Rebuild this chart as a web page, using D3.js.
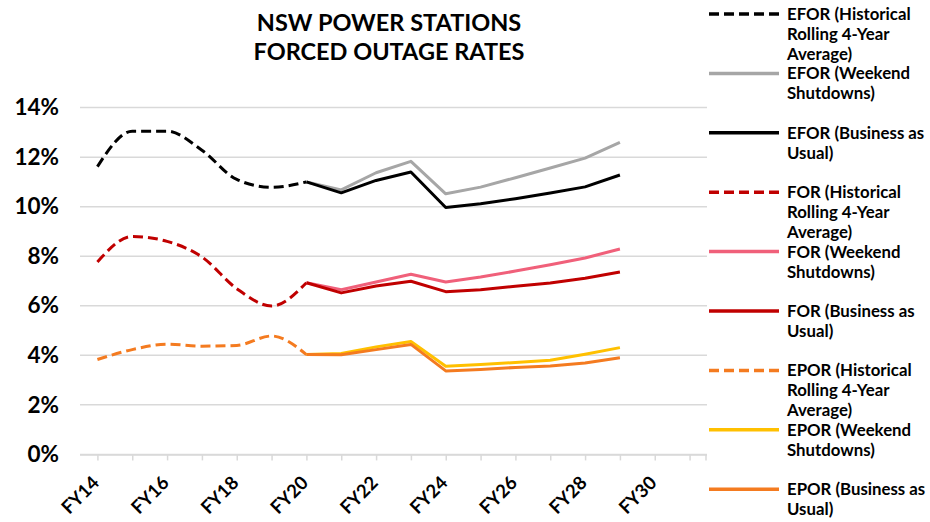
<!DOCTYPE html>
<html>
<head>
<meta charset="utf-8">
<script src="https://cdn.jsdelivr.net/npm/d3@7"></script>
<style>
  html, body { margin: 0; padding: 0; background: #fff; }
  svg { display: block; font-family: Lato, "Open Sans", sans-serif; font-weight: 700; }
</style>
</head>
<body>
<svg id="chart" width="930" height="522"></svg>
<script>
const categories = ["FY14","FY15","FY16","FY17","FY18","FY19","FY20","FY21","FY22","FY23","FY24","FY25","FY26","FY27","FY28","FY29","FY30","FY31"];
const tickLabels = ["FY14","FY16","FY18","FY20","FY22","FY24","FY26","FY28","FY30"];
const yTicks = [0, 2, 4, 6, 8, 10, 12, 14];
const histYears = ["FY14","FY15","FY16","FY17","FY18","FY19","FY20"];
const projYears = ["FY20","FY21","FY22","FY23","FY24","FY25","FY26","FY27","FY28","FY29"];

const eforHist     = [11.62, 13.05, 13.05, 12.28, 11.1, 10.78, 11.0];
const eforWeekend  = [11.0, 10.68, 11.37, 11.83, 10.52, 10.79, 11.17, 11.56, 11.96, 12.6];
const eforBAU      = [11.0, 10.56, 11.06, 11.4, 9.97, 10.12, 10.32, 10.55, 10.8, 11.28];
const forHist      = [7.77, 8.8, 8.6, 7.97, 6.69, 5.99, 6.93];
const forWeekend   = [6.93, 6.65, 6.96, 7.27, 6.96, 7.16, 7.4, 7.66, 7.93, 8.29];
const forBAU       = [6.93, 6.52, 6.8, 6.99, 6.57, 6.65, 6.79, 6.92, 7.11, 7.36];
const eporHist     = [3.83, 4.23, 4.45, 4.37, 4.4, 4.78, 4.03];
const eporWeekend  = [4.03, 4.07, 4.34, 4.56, 3.56, 3.63, 3.71, 3.8, 4.04, 4.31];
const eporBAU      = [4.03, 4.02, 4.23, 4.44, 3.37, 3.43, 3.51, 3.57, 3.69, 3.9];

const seriesNames = [
  ["EFOR (Historical", "Rolling 4-Year", "Average)"],
  ["EFOR (Weekend", "Shutdowns)"],
  ["EFOR (Business as", "Usual)"],
  ["FOR (Historical", "Rolling 4-Year", "Average)"],
  ["FOR (Weekend", "Shutdowns)"],
  ["FOR (Business as", "Usual)"],
  ["EPOR (Historical", "Rolling 4-Year", "Average)"],
  ["EPOR (Weekend", "Shutdowns)"],
  ["EPOR (Business as", "Usual)"]
];
const seriesColors = ["#000000","#a6a6a6","#000000","#c00000","#f0607a","#c00000","#f47b20","#ffc000","#f47b20"];

const series = [
  {years: histYears, values: eforHist, dashed: true},
  {years: projYears, values: eforWeekend, dashed: false},
  {years: projYears, values: eforBAU, dashed: false},
  {years: histYears, values: forHist, dashed: true},
  {years: projYears, values: forWeekend, dashed: false},
  {years: projYears, values: forBAU, dashed: false},
  {years: histYears, values: eporHist, dashed: true},
  {years: projYears, values: eporWeekend, dashed: false},
  {years: projYears, values: eporBAU, dashed: false}
].map((s, i) => ({...s, name: seriesNames[i], color: seriesColors[i]}));

const svg = d3.select("#chart");
const x = d3.scalePoint().domain(categories).range([80, 707]).padding(0.5);
const y = d3.scaleLinear().domain([0, 14]).range([454.4, 107.6]);

// gridlines
svg.append("g").selectAll("line").data(yTicks).join("line")
  .attr("x1", 80).attr("x2", 707)
  .attr("y1", d => y(d)).attr("y2", d => y(d))
  .attr("stroke", "#d9d9d9").attr("stroke-width", 1.5);

// y axis labels
const yAxis = d3.axisLeft(y).tickValues(yTicks).tickSize(0).tickPadding(0).tickFormat(d => d + "%");
const gy = svg.append("g").attr("transform", "translate(59,0)").call(yAxis);
gy.select(".domain").remove();
gy.selectAll("text").attr("font-size", 22.5).attr("font-family", "Lato, sans-serif").attr("font-weight", 700).attr("fill", "#000");

// x axis
const xAxis = d3.axisBottom(x).tickSize(6).tickFormat("");
const gx = svg.append("g").attr("transform", `translate(0,${y(0)})`).call(xAxis);
gx.select(".domain").attr("stroke", "#d9d9d9").attr("stroke-width", 1.5).attr("d", "M80,0.5H707");
gx.selectAll(".tick line").attr("stroke", "#d9d9d9").attr("stroke-width", 1.5);
gx.append("line").attr("x1", 706).attr("x2", 706).attr("y1", 0).attr("y2", 6).attr("stroke", "#d9d9d9").attr("stroke-width", 1.5);

svg.append("g").selectAll("text").data(tickLabels).join("text")
  .attr("transform", d => `translate(${x(d) + 3},484) rotate(-45)`)
  .attr("text-anchor", "end")
  .attr("font-size", 18.5)
  .attr("fill", "#000")
  .text(d => d);

// lines
const smoothLine = d3.line().x(d => x(d[0])).y(d => y(d[1])).curve(d3.curveMonotoneX);
const straightLine = d3.line().x(d => x(d[0])).y(d => y(d[1]));

svg.append("g").selectAll("path").data(series).join("path")
  .attr("d", s => (s.dashed ? smoothLine : straightLine)(s.years.map((yr, i) => [yr, s.values[i]])))
  .attr("fill", "none")
  .attr("stroke", s => s.color)
  .attr("stroke-width", 3)
  .attr("stroke-linejoin", "round")
  .attr("stroke-dasharray", s => s.dashed ? "10,5" : null);

// title
const title = svg.append("text").attr("x", 389).attr("text-anchor", "middle").attr("font-size", 23.5).attr("fill", "#000");
title.append("tspan").attr("x", 389).attr("y", 31).text("NSW POWER STATIONS");
title.append("tspan").attr("x", 389).attr("y", 60).text("FORCED OUTAGE RATES");

// legend
const legend = svg.append("g").selectAll("g").data(series).join("g")
  .attr("transform", (d, i) => `translate(0,${14 + i * 59.4})`);
legend.append("line")
  .attr("x1", 709).attr("x2", 779).attr("y1", 0).attr("y2", 0)
  .attr("stroke", d => d.color).attr("stroke-width", 3.5)
  .attr("stroke-dasharray", d => d.dashed ? "10,5" : null);
legend.append("text")
  .attr("x", 787).attr("y", 0)
  .attr("font-size", 16.8).attr("fill", "#000")
  .selectAll("tspan").data(d => d.name).join("tspan")
  .attr("x", 787).attr("y", (d, i) => 6 + i * 20)
  .text(d => d);
</script>
</body>
</html>
